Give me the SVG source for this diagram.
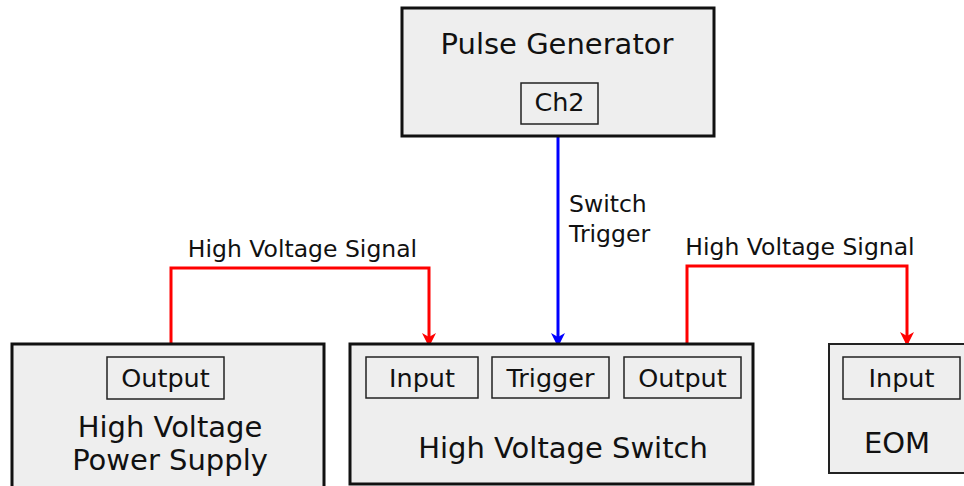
<svg xmlns="http://www.w3.org/2000/svg" width="964" height="486" viewBox="0 0 964 486">
<defs>
<marker id="arrR" markerWidth="14" markerHeight="16" refX="13" refY="7" orient="auto" markerUnits="userSpaceOnUse" viewBox="0 0 14 14">
<path d="M0,0 L14,7 L0,14 L4,7 Z" fill="#ff0000"/>
</marker>
<marker id="arrB" markerWidth="14" markerHeight="16" refX="13" refY="7" orient="auto" markerUnits="userSpaceOnUse" viewBox="0 0 14 14">
<path d="M0,0 L14,7 L0,14 L4,7 Z" fill="#0000ff"/>
</marker>
</defs>
<style>
text{font-family:"DejaVu Sans",Verdana,sans-serif;fill:#111;}
.box{fill:#eeeeee;stroke:#111;stroke-width:3;}
.boxthin{fill:#eeeeee;stroke:#222;stroke-width:2;}
.port{fill:#eeeeee;stroke:#222;stroke-width:1.5;}
.title{font-size:29px;text-anchor:middle;}
.portt{font-size:25.5px;text-anchor:middle;}
.lab{font-size:23.5px;}
.red{fill:none;stroke:#ff0000;stroke-width:3;}
.blue{fill:none;stroke:#0000ff;stroke-width:3;}
</style>
<rect width="964" height="486" fill="#ffffff"/>
<g id="connectors">
<path class="blue" d="M558,137 L558,346" marker-end="url(#arrB)"/>
<path class="red" d="M171,343 L171,268 L429,268 L429,346" marker-end="url(#arrR)"/>
<path class="red" d="M687,343 L687,266 L907,266 L907,345" marker-end="url(#arrR)"/>
<text class="lab" x="302.5" y="257" text-anchor="middle">High Voltage Signal</text>
<text class="lab" x="800" y="255" text-anchor="middle">High Voltage Signal</text>
<text class="lab" x="569" y="212">Switch</text>
<text class="lab" x="569" y="242">Trigger</text>
</g>
<g id="pulse-generator">
<rect class="box" x="402" y="8" width="312" height="128"/>
<text class="title" x="557" y="54">Pulse Generator</text>
<rect class="port" x="521" y="83" width="77" height="41"/>
<text class="portt" x="559.5" y="111">Ch2</text>
</g>
<g id="hv-power-supply">
<rect class="box" x="12" y="344" width="312" height="145"/>
<rect class="port" x="107" y="357" width="117" height="42"/>
<text class="portt" x="165.5" y="387">Output</text>
<text class="title" x="170" y="437">High Voltage</text>
<text class="title" x="170" y="470">Power Supply</text>
</g>
<g id="hv-switch">
<rect class="box" x="350" y="344" width="403" height="140"/>
<rect class="port" x="366" y="357" width="112" height="41"/>
<text class="portt" x="422" y="387">Input</text>
<rect class="port" x="492" y="357" width="117" height="41"/>
<text class="portt" x="550.5" y="387">Trigger</text>
<rect class="port" x="624" y="357" width="117" height="41"/>
<text class="portt" x="682.5" y="387">Output</text>
<text class="title" x="563" y="458">High Voltage Switch</text>
</g>
<g id="eom">
<rect class="boxthin" x="829" y="344" width="140" height="129"/>
<rect class="port" x="843" y="357" width="117" height="42"/>
<text class="portt" x="901.5" y="387">Input</text>
<text class="title" x="897" y="453">EOM</text>
</g>
</svg>
